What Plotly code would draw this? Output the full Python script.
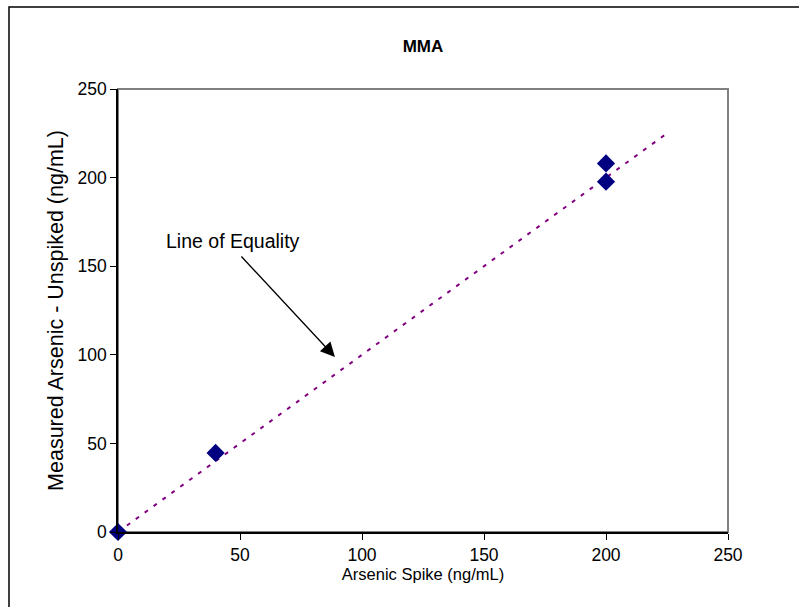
import plotly.graph_objects as go

# Data
spike_x = [0, 40, 200, 200]
measured_y = [0, 44.6, 208, 197.7]
equality_x = [0, 225]
equality_y = [0, 225]
x_ticks = [0, 50, 100, 150, 200, 250]
y_ticks = [0, 50, 100, 150, 200, 250]

FONT = "Liberation Sans, Arial, sans-serif"

fig = go.Figure()
fig.add_trace(go.Scatter(
    x=equality_x, y=equality_y, mode="lines",
    line=dict(color="#800080", width=2, dash="4px,7px"),
    hoverinfo="skip", showlegend=False, cliponaxis=False))
fig.add_trace(go.Scatter(
    x=spike_x, y=measured_y, mode="markers",
    marker=dict(symbol="diamond", size=14, color="#000080",
                line=dict(width=0)),
    showlegend=False, cliponaxis=False))

fig.update_layout(
    width=799, height=607,
    margin=dict(l=118, r=71, t=89, b=75),
    paper_bgcolor="white", plot_bgcolor="white",
    font=dict(family=FONT, size=17, color="black"),
    title=dict(text="<b>MMA</b>", x=0.5, xref="paper", xanchor="center",
               y=1 - 46 / 607, yanchor="middle",
               font=dict(family=FONT, size=17, color="black")),
    showlegend=False,
    xaxis=dict(range=[0, 250], tickvals=x_ticks, ticks="outside", ticklen=6,
               tickcolor="black", showline=True, linecolor="black", linewidth=1.5,
               showgrid=False, zeroline=False, tickfont=dict(size=17.5),
               title=dict(text="Arsenic Spike (ng/mL)", standoff=4,
                          font=dict(family=FONT, size=16.5))),
    yaxis=dict(range=[0, 250], tickvals=y_ticks, ticks="outside", ticklen=6,
               tickcolor="black", showline=True, linecolor="black", linewidth=1.5,
               showgrid=False, zeroline=False, tickfont=dict(size=17.5),
               title=dict(text="Measured Arsenic - Unspiked (ng/mL)", standoff=8,
                          font=dict(family=FONT, size=21.5))),
    shapes=[
        dict(type="rect", xref="paper", yref="paper", x0=0, y0=0, x1=1, y1=1,
             line=dict(color="#808080", width=2), layer="below"),
        dict(type="rect", xref="paper", yref="paper",
             x0=(9 - 118) / 610, x1=(820 - 118) / 610,
             y0=(532 - 620) / 443, y1=(532 - 7) / 443,
             line=dict(color="black", width=1.5), layer="below"),
    ],
    annotations=[
        dict(x=88.9, y=98.8, ax=50, ay=156.3, xref="x", yref="y",
             axref="x", ayref="y", showarrow=True, arrowhead=2,
             arrowsize=2.2, arrowwidth=1.3, arrowcolor="black", text=""),
        dict(x=47.3, y=164, xref="x", yref="y", text="Line of Equality",
             showarrow=False, font=dict(family=FONT, size=19.5, color="black")),
    ],
)

fig.write_html("out.html")
